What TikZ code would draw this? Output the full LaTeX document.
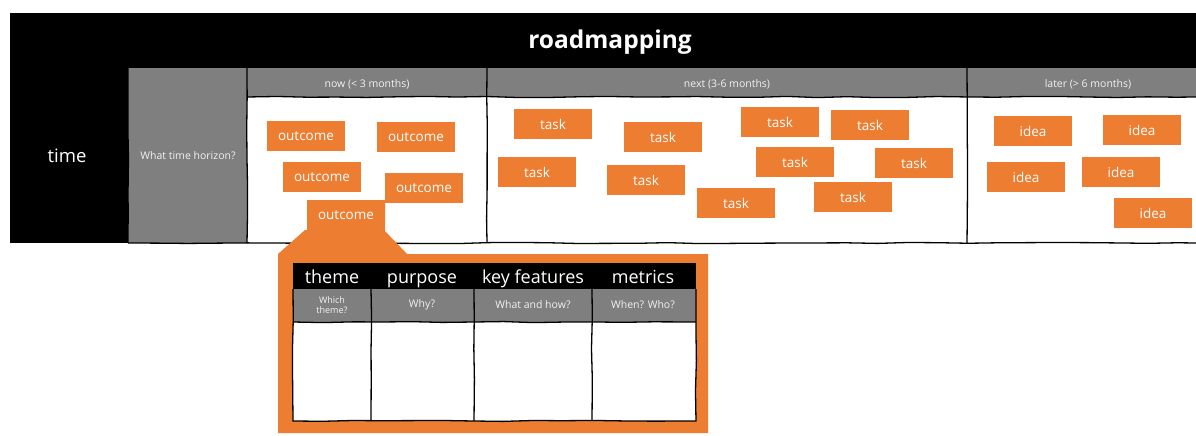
\documentclass[tikz,border=0pt]{standalone}
\usepackage{fontspec}
\setmainfont{Open Sans}
\usetikzlibrary{decorations.pathmorphing}
\definecolor{org}{HTML}{ED7D31}
\definecolor{gry}{HTML}{7F7F7F}
\definecolor{lt}{HTML}{F2F2F2}
\begin{document}
\begin{tikzpicture}[x=1pt,y=-1pt,
  sk/.style={decorate,decoration={random steps,segment length=30pt,amplitude=0.6pt},line width=1.3pt,draw=black},
  card/.style={fill=org,minimum width=78pt,minimum height=30pt,inner sep=0pt,text=white,font=\fontsize{13.5}{14}\selectfont},
  small/.style={text=lt,font=\fontsize{10.5}{11}\selectfont,align=center},
  sub/.style={text=lt,font=\fontsize{10.5}{10}\selectfont,align=center},
  bighead/.style={text=white,font=\fontsize{18}{19}\selectfont,anchor=base}]
\pgfmathsetseed{7}
\useasboundingbox (0,0) rectangle (1196,436);
\fill[white] (0,0) rectangle (1196,436);
% title bar
\fill[black] (10,13) rectangle (1196,68);
\node[text=white,font=\bfseries\fontsize{24.5}{26}\selectfont] (title) at (610,42) {roadmapping};
% left columns
\fill[black] (10,68) rectangle (128,243);
\fill[gry] (128,68) rectangle (247,243);
\node[text=white,font=\fontsize{18.5}{20}\selectfont] (time) at (67,156) {time};
\node[small] (horizon) at (188,156) {What time horizon?};
% headers
\fill[gry] (247,68) rectangle (1196,97);
\node[small] (now) at (367,84) {now (< 3 months)};
\node[small] (next) at (727,84) {next (3-6 months)};
\node[small] (later) at (1088,84) {later (> 6 months)};
% borders
\draw[sk] (247,68) -- (247,243);
\draw[sk] (487,68) -- (487,243);
\draw[sk] (967,68) -- (967,243);
\draw[sk] (247,97) -- (1196,97);
\draw[sk] (128,243) -- (1196,243);
\draw[sk] (128,68) -- (128,243);
% callout
\fill[org] (307,200) -- (385,200) -- (385,231) -- (407,254) -- (708,254) -- (708,433) -- (278,433) -- (278,254) -- (305,230) -- (307,230) -- cycle;
% outcomes
\node[card] (o1) at (306,136) {outcome};
\node[card] (o2) at (416,137) {outcome};
\node[card] (o3) at (322,177) {outcome};
\node[card] (o4) at (424,188) {outcome};
\node[card,fill=none] (o5) at (346,215) {outcome};
% tasks
\node[card] (t1) at (553,124) {task};
\node[card] (t2) at (663,137) {task};
\node[card] (t3) at (780,122) {task};
\node[card] (t4) at (870,125) {task};
\node[card] (t5) at (537,172) {task};
\node[card] (t6) at (646,180) {task};
\node[card] (t7) at (795,162) {task};
\node[card] (t8) at (914,163) {task};
\node[card] (t9) at (736,203) {task};
\node[card] (t10) at (853,197) {task};
% ideas
\node[card] (i1) at (1033,131) {idea};
\node[card] (i2) at (1142,130) {idea};
\node[card] (i3) at (1026,177) {idea};
\node[card] (i4) at (1121,172) {idea};
\node[card] (i5) at (1153,213) {idea};
% table
\fill[black] (293,263) rectangle (696,289);
\fill[gry] (293,289) rectangle (696,322);
\fill[white] (293,322) rectangle (696,421);
\draw[sk] (293,289) -- (293,421) -- (696,421) -- (696,289);
\draw[sk] (293,322) -- (696,322);
\draw[sk] (371,289) -- (371,421);
\draw[sk] (474,289) -- (474,421);
\draw[sk] (592,289) -- (592,421);
\node[bighead] (h1) at (332,283) {theme};
\node[bighead] (h2) at (422,283) {purpose};
\node[bighead] (h3) at (533,283) {key features};
\node[bighead] (h4) at (643,283) {metrics};
\node[sub,font=\fontsize{9}{9.5}\selectfont] (s1) at (332,305) {Which\\theme?};
\node[sub] (s2) at (422,305) {Why?};
\node[sub] (s3) at (533,305) {What and how?};
\node[sub] (s4) at (643,305) {When? Who?};
\end{tikzpicture}
\end{document}
